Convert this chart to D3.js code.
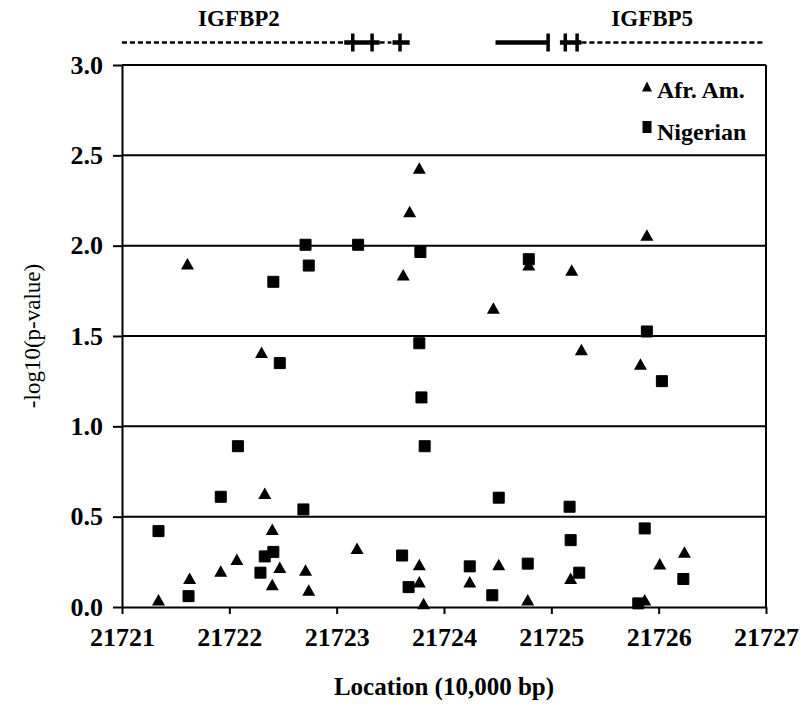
<!DOCTYPE html>
<meta charset="utf-8">
<style>
body { margin: 0; background: #fff; }
svg, svg text { font-family: "Liberation Serif", "Times New Roman", serif; }
.axis path, .axis line { stroke: #000; stroke-width: 2px; }
.axis text { font-family: "Liberation Serif", "Times New Roman", serif; font-size: 26px; font-weight: bold; fill: #000; }
.grid line { stroke: #000; stroke-width: 2px; }
</style>
<div id="chart"></div>
<script src="https://cdn.jsdelivr.net/npm/d3@7"></script>
<script>

// Afr. Am. (triangles)
var afrLoc = [21721.34, 21721.63, 21721.61, 21721.92, 21722.07, 21722.30, 21722.33, 21722.40,
              21722.47, 21722.40, 21722.71, 21722.74, 21723.19, 21723.62, 21723.68, 21723.77,
              21723.77, 21723.77, 21723.81, 21724.24, 21724.46, 21724.51, 21724.78, 21724.79,
              21725.18, 21725.19, 21725.28, 21725.83, 21725.87, 21725.89, 21726.01, 21726.24];
var afrLogP = [0.03, 0.15, 1.89, 0.19, 0.255, 1.40, 0.62, 0.42,
               0.21, 0.115, 0.195, 0.085, 0.315, 1.83, 2.18, 2.42,
               0.225, 0.13, 0.01, 0.13, 1.645, 0.225, 0.03, 1.885,
               0.15, 1.855, 1.415, 1.335, 0.03, 2.05, 0.23, 0.295];

// Nigerian (squares)
var nigLoc = [21721.34, 21721.62, 21721.92, 21722.08, 21722.29, 21722.33, 21722.41, 21722.41,
              21722.47, 21722.69, 21722.71, 21722.74, 21723.20, 21723.61, 21723.67, 21723.77,
              21723.78, 21723.79, 21723.82, 21724.24, 21724.45, 21724.51, 21724.78, 21724.79,
              21725.17, 21725.18, 21725.26, 21725.81, 21725.87, 21725.89, 21726.03, 21726.23];
var nigLogP = [0.42, 0.06, 0.61, 0.89, 0.19, 0.28, 0.305, 1.80,
               1.35, 0.54, 2.005, 1.89, 2.005, 0.285, 0.11, 1.46,
               1.965, 1.16, 0.89, 0.225, 0.065, 0.605, 0.24, 1.925,
               0.555, 0.37, 0.19, 0.02, 0.435, 1.525, 1.25, 0.155];

var xTicks = [21721, 21722, 21723, 21724, 21725, 21726, 21727];
var yTicks = [0, 0.5, 1.0, 1.5, 2.0, 2.5, 3.0];

// gene track (location units)
var geneNames = ["IGFBP2", "IGFBP5"];
var geneLabelLoc = [21722.09, 21725.94];
var intronSpans = [[21721.0, 21723.07], [21723.40, 21723.51], [21725.28, 21726.98]];
var exonSpans = [[21723.07, 21723.40], [21723.52, 21723.68], [21724.48, 21724.98], [21725.08, 21725.28]];
var exonMarks = [21723.15, 21723.33, 21723.59, 21724.97, 21725.13, 21725.24];

var seriesNames = ["Afr. Am.", "Nigerian"];

var width = 804, height = 709;
var margin = {top: 65, right: 38, bottom: 102, left: 122};

var svg = d3.select("#chart").append("svg")
    .attr("width", width)
    .attr("height", height);

var x = d3.scaleLinear().domain([21721, 21727]).range([margin.left, width - margin.right]);
var y = d3.scaleLinear().domain([0, 3]).range([height - margin.bottom, margin.top]);

// horizontal grid lines
svg.append("g").attr("class", "grid")
  .selectAll("line").data(yTicks.slice(1)).enter().append("line")
    .attr("x1", x.range()[0]).attr("x2", x.range()[1])
    .attr("y1", d => y(d)).attr("y2", d => y(d));

// right frame
svg.append("line")
    .attr("x1", x.range()[1]).attr("x2", x.range()[1])
    .attr("y1", y(3)).attr("y2", y(0))
    .attr("stroke", "#000").attr("stroke-width", 2);

svg.append("g").attr("class", "axis")
    .attr("transform", `translate(0,${y(0)})`)
    .call(d3.axisBottom(x).tickValues(xTicks).tickFormat(d3.format("d")).tickSize(7).tickSizeOuter(0).tickPadding(14));

svg.append("g").attr("class", "axis")
    .attr("transform", `translate(${x(21721)},0)`)
    .call(d3.axisLeft(y).tickValues(yTicks).tickFormat(d3.format(".1f")).tickSize(9).tickSizeOuter(0).tickPadding(10));

// axis titles
svg.append("text")
    .attr("x", (x.range()[0] + x.range()[1]) / 2)
    .attr("y", 695)
    .attr("text-anchor", "middle")
    .style("font-size", "25px").style("font-weight", "bold")
    .text("Location (10,000 bp)");

svg.append("text")
    .attr("transform", `translate(40,${(y(0) + y(3)) / 2}) rotate(-90)`)
    .attr("text-anchor", "middle")
    .style("font-size", "23px")
    .text("-log10(p-value)");

// markers
var triPath = "M0,-6.5L6.5,5L-6.5,5Z";
var sqPath = "M-5.5,-5.5H5.5V5.5H-5.5Z";

var afr = afrLoc.map((d, i) => ({loc: d, p: afrLogP[i]}));
var nig = nigLoc.map((d, i) => ({loc: d, p: nigLogP[i]}));

svg.append("g").selectAll("path").data(nig).enter().append("path")
    .attr("d", sqPath)
    .attr("fill", "#000")
    .attr("stroke", "#000").attr("stroke-width", 1).attr("stroke-linejoin", "round")
    .attr("transform", d => `translate(${x(d.loc)},${y(d.p)})`);

svg.append("g").selectAll("path").data(afr).enter().append("path")
    .attr("d", triPath)
    .attr("fill", "#000")
    .attr("transform", d => `translate(${x(d.loc)},${y(d.p) - 1})`);

// legend
var legend = svg.append("g").style("font-size", "24px").style("font-weight", "bold");
legend.append("path").attr("d", "M0,-5.5L5,4.5L-5,4.5Z").attr("transform", "translate(647,87)");
legend.append("path").attr("d", "M-4.5,-6H4.5V6H-4.5Z").attr("transform", "translate(647,127)");
legend.append("text").attr("x", 657).attr("y", 98).text(seriesNames[0]);
legend.append("text").attr("x", 657).attr("y", 140).text(seriesNames[1]);

// gene track
var trackY = 42.5;
var track = svg.append("g");
track.selectAll("line.intron").data(intronSpans).enter().append("line")
    .attr("class", "intron")
    .attr("x1", d => x(d[0])).attr("x2", d => x(d[1]))
    .attr("y1", trackY).attr("y2", trackY)
    .attr("stroke", "#000").attr("stroke-width", 2.5)
    .attr("stroke-dasharray", "5,3");
track.selectAll("line.exon").data(exonSpans).enter().append("line")
    .attr("class", "exon")
    .attr("x1", d => x(d[0])).attr("x2", d => x(d[1]))
    .attr("y1", trackY).attr("y2", trackY)
    .attr("stroke", "#000").attr("stroke-width", 4.5);
track.selectAll("line.mark").data(exonMarks).enter().append("line")
    .attr("class", "mark")
    .attr("x1", d => x(d)).attr("x2", d => x(d))
    .attr("y1", trackY - 9).attr("y2", trackY + 9)
    .attr("stroke", "#000").attr("stroke-width", 3.5);
track.selectAll("text").data(geneNames).enter().append("text")
    .attr("x", (d, i) => x(geneLabelLoc[i]))
    .attr("y", 26)
    .attr("text-anchor", "middle")
    .style("font-size", "23px").style("font-weight", "bold")
    .text(d => d);

</script>
